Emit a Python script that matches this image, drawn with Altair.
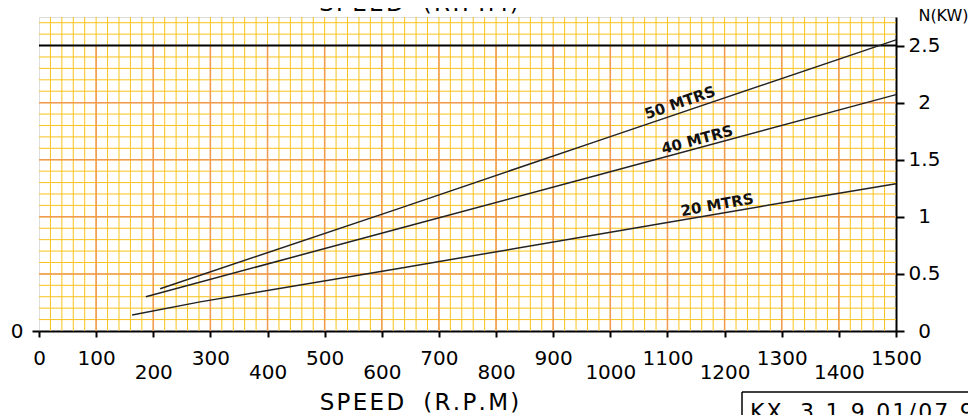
import altair as alt
import pandas as pd
import numpy as np

# ---- data ----
x_ticks = list(range(0, 1501, 100))
y_ticks = [0, 0.5, 1, 1.5, 2, 2.5]

rpm_20 = [163, 282, 632, 1000, 1332, 1500]
kw_20 = [0.14, 0.255, 0.55, 0.865, 1.149, 1.29]
rpm_40 = [187, 632, 982, 1500]
kw_40 = [0.30, 0.90, 1.37, 2.07]
rpm_50 = [212, 632, 982, 1500]
kw_50 = [0.37, 1.076, 1.672, 2.55]

label_text = ["50 MTRS", "40 MTRS", "20 MTRS"]
label_rpm = [1122, 1152, 1187]
label_kw = [2.0, 1.675, 1.105]
label_angle = [341, 345, 350]

limit_kw = [2.5]
x_title = "SPEED (R.P.M)"
y_title = "N(KW)"
drawing_no = "KX 3.1.9.01/07.9"

# grid positions (graph paper)
minor_x = list(range(20, 1500, 20))
minor_y = [round(v, 1) for v in np.arange(0.1, 2.75, 0.1)]
major_x = list(range(100, 1500, 100))
major_y = [0.5, 1.0, 1.5, 2.0]

GOLD = "#F8C31C"
ORANGE = "#F09A52"
FONT = "DejaVu Sans"


def spaced(s):
    # wide, drafting-style lettering
    return "\u200a".join(ch if ch != " " else "\u00a0\u00a0" for ch in s)


xs = alt.Scale(domain=[0, 1500], nice=False, zero=False)
ys = alt.Scale(domain=[0, 2.75], nice=False, zero=False)

curves = pd.DataFrame({
    "rpm": rpm_50 + rpm_40 + rpm_20,
    "kw": kw_50 + kw_40 + kw_20,
    "series": ["50"] * len(rpm_50) + ["40"] * len(rpm_40) + ["20"] * len(rpm_20),
})
labels = pd.DataFrame({"t": label_text, "rpm": label_rpm, "kw": label_kw, "a": label_angle})

gold_v = alt.Chart(pd.DataFrame({"x": minor_x})).mark_rule(color=GOLD, strokeWidth=1).encode(
    x=alt.X("x:Q", scale=xs, axis=alt.Axis(
        orient="bottom", values=x_ticks, tickSize=6, tickWidth=2, tickColor="black",
        domainColor="black", domainWidth=2, grid=False,
        labelFontSize=20, labelFont=FONT, labelColor="black", labelAngle=0,
        labelBaseline="top", labelPadding=11, labelLineHeight=14,
        labelExpr="(datum.value % 200 == 0 && datum.value != 0) ? ['', datum.value + ''] : datum.value + ''",
        labelOverlap=False, labelFlush=False,
        title=spaced(x_title), titleX=380, titleY=78, titleAlign="center",
        titleBaseline="alphabetic", titleFontSize=23, titleFont=FONT,
        titleFontWeight="normal", titleColor="black")))
gold_h = alt.Chart(pd.DataFrame({"y": minor_y})).mark_rule(color=GOLD, strokeWidth=1).encode(
    y=alt.Y("y:Q", scale=ys, axis=None))
orange_v = alt.Chart(pd.DataFrame({"x": major_x, "y0": [0] * len(major_x), "y1": [2.5] * len(major_x)})).mark_rule(
    color=ORANGE, strokeWidth=1.5).encode(
    x=alt.X("x:Q", scale=xs, axis=None),
    y=alt.Y("y0:Q", scale=ys, axis=None), y2="y1:Q")
orange_h = alt.Chart(pd.DataFrame({"y": major_y})).mark_rule(color=ORANGE, strokeWidth=1.5).encode(
    y=alt.Y("y:Q", scale=ys, axis=alt.Axis(
        orient="left", values=[0], tickSize=7, tickWidth=2, tickColor="black",
        domain=False, grid=False, labelFontSize=20, labelFont=FONT, labelColor="black",
        labelPadding=9, labelOverlap=False, labelFlush=False, title=None)))
limit = alt.Chart(pd.DataFrame({"y": limit_kw})).mark_rule(color="black", strokeWidth=2).encode(
    y=alt.Y("y:Q", scale=ys, axis=alt.Axis(
        orient="right", values=y_ticks, tickSize=8, tickWidth=2, tickColor="black",
        domainColor="black", domainWidth=2, grid=False,
        labelFontSize=20, labelFont=FONT, labelColor="black", labelAlign="center",
        labelBaseline="middle", labelPadding=20, labelOverlap=False, labelFlush=False,
        labelExpr="datum.value + ''",
        title=y_title, titleAngle=0, titleX=47, titleY=3, titleAlign="center",
        titleBaseline="alphabetic", titleFontSize=16, titleFont=FONT,
        titleFontWeight="normal", titleColor="black")))

lines = alt.Chart(curves).mark_line(color="#222222", strokeWidth=1.5).encode(
    x=alt.X("rpm:Q", scale=xs, axis=None),
    y=alt.Y("kw:Q", scale=ys, axis=None),
    detail="series:N",
)

texts = alt.Chart(labels).mark_text(font=FONT, fontSize=15, fontWeight="bold", color="#111111",
                                    align="center", baseline="middle").encode(
    x=alt.X("rpm:Q", scale=xs, axis=None),
    y=alt.Y("kw:Q", scale=ys, axis=None),
    text="t:N",
    angle=alt.Angle("a:Q", scale=None),
)

top_title = alt.Chart(pd.DataFrame({"t": [spaced(x_title)]})).mark_text(
    font=FONT, fontSize=23, color="black", align="center", baseline="alphabetic").encode(
    text="t:N", x=alt.value(380), y=alt.value(-6))

box_h = alt.Chart(pd.DataFrame({"k": [0]})).mark_rule(color="black", strokeWidth=1.5).encode(
    x=alt.value(703), x2=alt.value(960), y=alt.value(375))
box_v = alt.Chart(pd.DataFrame({"k": [0]})).mark_rule(color="black", strokeWidth=1.5).encode(
    x=alt.value(703), y=alt.value(375), y2=alt.value(430))
box_t = alt.Chart(pd.DataFrame({"t": [spaced(drawing_no)]})).mark_text(
    font=FONT, fontSize=22, color="black", align="left", baseline="alphabetic").encode(
    text="t:N", x=alt.value(711), y=alt.value(402))

chart = alt.layer(
    gold_v, gold_h, orange_v, orange_h, limit, lines, texts, top_title, box_h, box_v, box_t
).resolve_axis(y="independent", x="independent").properties(
    width=857, height=314,
    autosize=alt.AutoSizeParams(type="none"),
    padding={"left": 31, "top": 9, "right": 72, "bottom": 90},
).configure_view(stroke="black", strokeWidth=2).configure(background="white")

chart.save("out.html", embed_options={"renderer": "svg", "actions": False})
